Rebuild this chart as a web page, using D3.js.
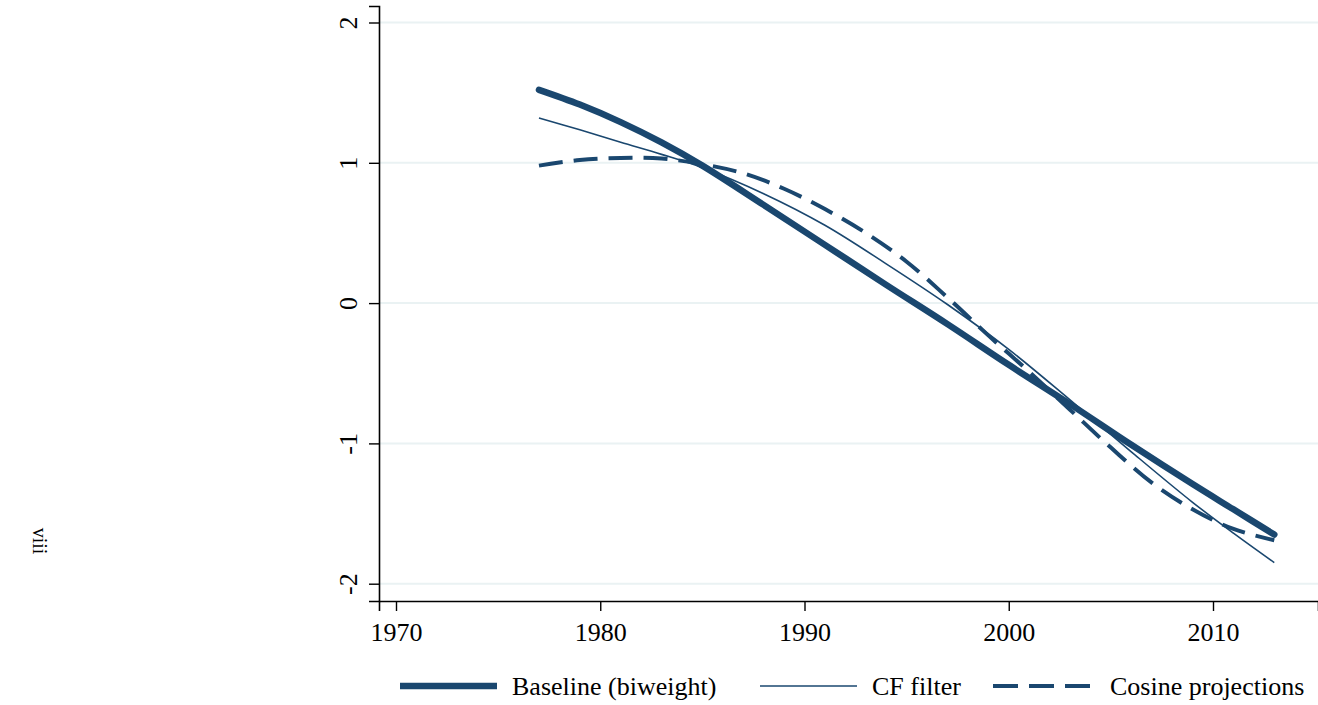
<!DOCTYPE html>
<html>
<head>
<meta charset="utf-8">
<script src="https://cdn.jsdelivr.net/npm/d3@7"></script>
<style>
  html, body { margin: 0; padding: 0; background: #fff; }
  svg { display: block; }
  text { font-family: "Liberation Serif", "Times New Roman", serif; fill: #000; }
</style>
</head>
<body>
<svg id="chart" width="1318" height="705"></svg>
<script>
// ---- data ----
const xTicks = [1970, 1980, 1990, 2000, 2010];
const yTicks = [-2, -1, 0, 1, 2];

const baselineYears  = [1977, 1979, 1981, 1983, 1985, 1988, 1991, 1994, 1997, 2000, 2003, 2006, 2009, 2011, 2013];
const baselineValues = [1.52, 1.415, 1.29, 1.145, 0.98, 0.70, 0.415, 0.13, -0.15, -0.44, -0.72, -1.01, -1.29, -1.47, -1.65];

const cfYears  = [1977, 1979, 1981, 1983, 1985, 1988, 1991, 1994, 1997, 2000, 2003, 2006, 2009, 2011, 2013];
const cfValues = [1.32, 1.235, 1.146, 1.06, 0.965, 0.78, 0.555, 0.28, -0.01, -0.33, -0.69, -1.06, -1.42, -1.64, -1.85];

const cosYears  = [1977, 1979, 1981, 1983, 1985, 1987, 1989, 1991, 1993, 1995, 1997, 1999, 2001, 2003, 2005, 2007, 2009, 2011, 2013];
const cosValues = [0.98, 1.02, 1.035, 1.03, 0.99, 0.925, 0.815, 0.67, 0.50, 0.295, 0.04, -0.23, -0.49, -0.76, -1.03, -1.28, -1.47, -1.61, -1.69];

const seriesNames = ["Baseline (biweight)", "CF filter", "Cosine projections"];
const sideLabel = "viii";

// ---- layout ----
const color = "#1a476f";
const svg = d3.select("#chart");

const xBase = d3.scaleLinear().domain([1970, 2010]).range([396, 1213]);
const x = d3.scaleLinear().domain([xBase.invert(379), xBase.invert(1318)]).range([379, 1318]);
const yBase = d3.scaleLinear().domain([-2, 2]).range([583.7, 22.5]);
const y = d3.scaleLinear().domain([yBase.invert(601), yBase.invert(6)]).range([601, 6]);

// gridlines
svg.append("g").selectAll("line").data(yTicks).join("line")
  .attr("x1", 380).attr("x2", 1318)
  .attr("y1", d => y(d)).attr("y2", d => y(d))
  .attr("stroke", "#eaf2f3").attr("stroke-width", 2);

// axes
const xAxis = svg.append("g").attr("transform", "translate(0,601)")
  .call(d3.axisBottom(x).tickValues(xTicks).tickFormat(d3.format("d")).tickSize(10).tickPadding(12));
const yAxis = svg.append("g").attr("transform", "translate(379,0)")
  .call(d3.axisLeft(y).tickValues(yTicks).tickSize(10).tickFormat(d => d < 0 ? "-" + Math.abs(d) : String(d)));

[xAxis, yAxis].forEach(g => {
  g.select(".domain").attr("stroke", "#000").attr("stroke-width", 1.6);
  g.selectAll(".tick line").attr("stroke", "#000").attr("stroke-width", 1.4);
  g.selectAll("text").style("font-family", "'Liberation Serif', serif").style("font-size", "26px").attr("fill", "#000");
});
xAxis.selectAll(".tick text").attr("dy", "0.71em");
yAxis.selectAll(".tick text")
  .attr("x", null).attr("dy", null)
  .attr("text-anchor", "middle")
  .attr("transform", "translate(-22,0) rotate(-90)")
  .attr("y", 0);

// lines
const mk = (yrs, vals) => yrs.map((d, i) => ({ x: d, y: vals[i] }));
const line = d3.line().x(d => x(d.x)).y(d => y(d.y)).curve(d3.curveCatmullRom.alpha(0.5));

svg.append("path").datum(mk(cosYears, cosValues)).attr("d", line)
  .attr("fill", "none").attr("stroke", color).attr("stroke-width", 4)
  .attr("stroke-dasharray", "24,11");
svg.append("path").datum(mk(cfYears, cfValues)).attr("d", line)
  .attr("fill", "none").attr("stroke", color).attr("stroke-width", 1.6);
svg.append("path").datum(mk(baselineYears, baselineValues)).attr("d", line)
  .attr("fill", "none").attr("stroke", color).attr("stroke-width", 6.5)
  .attr("stroke-linecap", "round");

// legend
const legend = [
  { name: seriesNames[0], x1: 400, w: 6.5, dash: null, tx: 512 },
  { name: seriesNames[1], x1: 760, w: 1.6, dash: null, tx: 872 },
  { name: seriesNames[2], x1: 993, w: 4, dash: "25,11", tx: 1110 }
];
const lg = svg.append("g");
legend.forEach(l => {
  lg.append("line").attr("x1", l.x1).attr("x2", l.x1 + 97).attr("y1", 686).attr("y2", 686)
    .attr("stroke", color).attr("stroke-width", l.w).attr("stroke-dasharray", l.dash);
  lg.append("text").attr("x", l.tx).attr("y", 695).style("font-size", "26px").text(l.name);
});

// side label
svg.append("text").attr("transform", "translate(33,541) rotate(90)")
  .attr("text-anchor", "middle").style("font-size", "20px").text(sideLabel);
</script>
</body>
</html>
